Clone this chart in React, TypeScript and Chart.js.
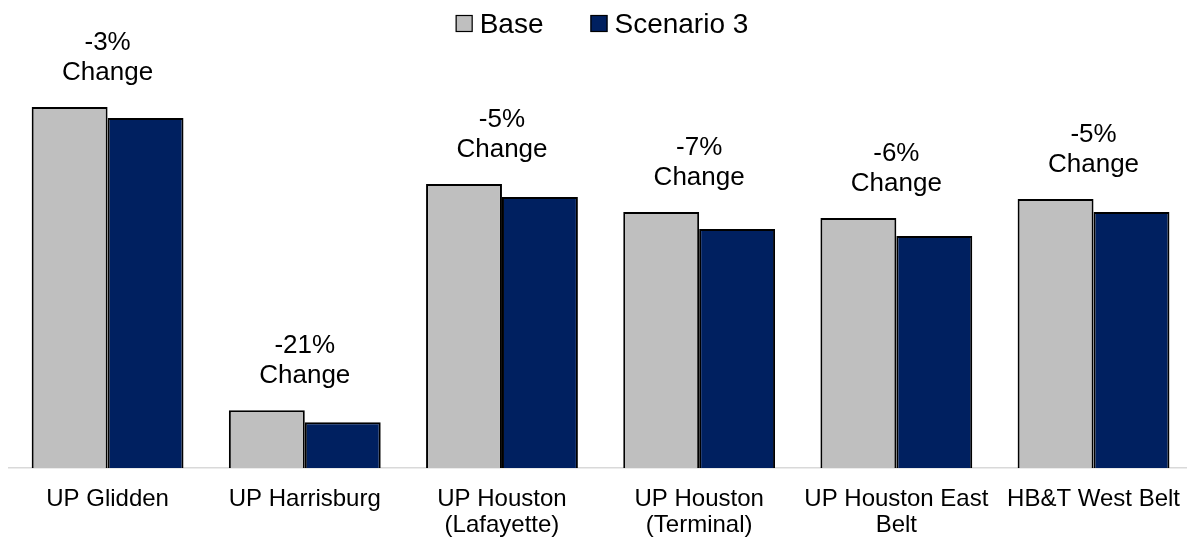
import React, { useEffect, useRef } from "react";
import { Chart, registerables } from "chart.js";

Chart.register(...registerables);

const categories: (string | string[])[] = [
  "UP Glidden",
  "UP Harrisburg",
  ["UP Houston", "(Lafayette)"],
  ["UP Houston", "(Terminal)"],
  ["UP Houston East", "Belt"],
  "HB&T West Belt",
];
const baseValues = [361, 58, 284, 256, 250, 269];
const scenarioValues = [350, 46, 271, 239, 232, 256];
const changeLabels = ["-3%", "-21%", "-5%", "-7%", "-6%", "-5%"];
const seriesNames = ["Base", "Scenario 3"];
const seriesColors = ["#bfbfbf", "#002060"];

const FONT = "'Liberation Sans', Arial, sans-serif";
const TOP_PAD = 40;
const AXIS_Y = 468;
const W = 1198;
const H = 557;

const annotationPlugin = {
  id: "changeAnnotations",
  afterDatasetsDraw(chart: any) {
    const ctx = chart.ctx;
    const x = chart.scales.x;
    const m0 = chart.getDatasetMeta(0);
    const m1 = chart.getDatasetMeta(1);
    ctx.save();
    ctx.fillStyle = "#000";
    ctx.font = `26px ${FONT}`;
    ctx.textAlign = "center";
    ctx.textBaseline = "alphabetic";
    changeLabels.forEach((lab, i) => {
      const top = Math.min(m0.data[i].y, m1.data[i].y);
      const cx = x.getPixelForValue(i);
      const b2 = top - 27;
      ctx.fillText("Change", cx, b2);
      ctx.fillText(lab, cx, b2 - 30);
    });
    ctx.restore();
  },
};

const legendPlugin = {
  id: "customLegend",
  afterDraw(chart: any) {
    const ctx = chart.ctx;
    ctx.save();
    ctx.font = `28px ${FONT}`;
    const box = 17;
    const gapText = 7;
    const gapItem = 47;
    const widths = seriesNames.map((n) => box + gapText + ctx.measureText(n).width);
    const total = widths.reduce((a, b) => a + b, 0) + gapItem * (seriesNames.length - 1);
    let x0 = 602 - total / 2;
    seriesNames.forEach((n, i) => {
      ctx.fillStyle = seriesColors[i];
      ctx.fillRect(x0, 15, box, box);
      ctx.strokeStyle = "#000";
      ctx.lineWidth = 1.2;
      ctx.strokeRect(x0 + 0.5, 15.5, box - 1, box - 1);
      ctx.fillStyle = "#000";
      ctx.textAlign = "left";
      ctx.textBaseline = "alphabetic";
      ctx.fillText(n, x0 + box + gapText, 33);
      x0 += widths[i] + gapItem;
    });
    ctx.restore();
  },
};

export default function App() {
  const ref = useRef<HTMLCanvasElement>(null);
  useEffect(() => {
    if (!ref.current) return;
    const chart = new Chart(ref.current, {
      type: "bar",
      data: {
        labels: categories,
        datasets: [
          {
            label: seriesNames[0],
            data: baseValues,
            backgroundColor: seriesColors[0],
            borderColor: "#000",
            borderWidth: 2,
            borderSkipped: "bottom",
          },
          {
            label: seriesNames[1],
            data: scenarioValues,
            backgroundColor: seriesColors[1],
            borderColor: "#000",
            borderWidth: 2,
            borderSkipped: "bottom",
          },
        ],
      },
      options: {
        animation: false,
        responsive: false,
        maintainAspectRatio: false,
        layout: { padding: { top: TOP_PAD, left: 9, right: 0, bottom: 0 } },
        plugins: {
          legend: { display: false },
          tooltip: { enabled: false },
        },
        datasets: { bar: { categoryPercentage: 0.77, barPercentage: 1 } } as any,
        scales: {
          x: {
            grid: { display: false, drawTicks: false },
            border: { display: true, color: "#d9d9d9", width: 1.5 },
            ticks: {
              color: "#000",
              font: { family: FONT, size: 24, lineHeight: 1.1 },
              padding: 18,
              maxRotation: 0,
              autoSkip: false,
            },
          },
          y: {
            display: false,
            min: 0,
            max: AXIS_Y - TOP_PAD,
          },
        },
      },
      plugins: [annotationPlugin, legendPlugin],
    });
    return () => chart.destroy();
  }, []);
  return (
    <div style={{ position: "fixed", left: 0, top: 0, width: W, height: H, background: "#fff" }}>
      <canvas ref={ref} width={W} height={H} style={{ display: "block" }} />
    </div>
  );
}
